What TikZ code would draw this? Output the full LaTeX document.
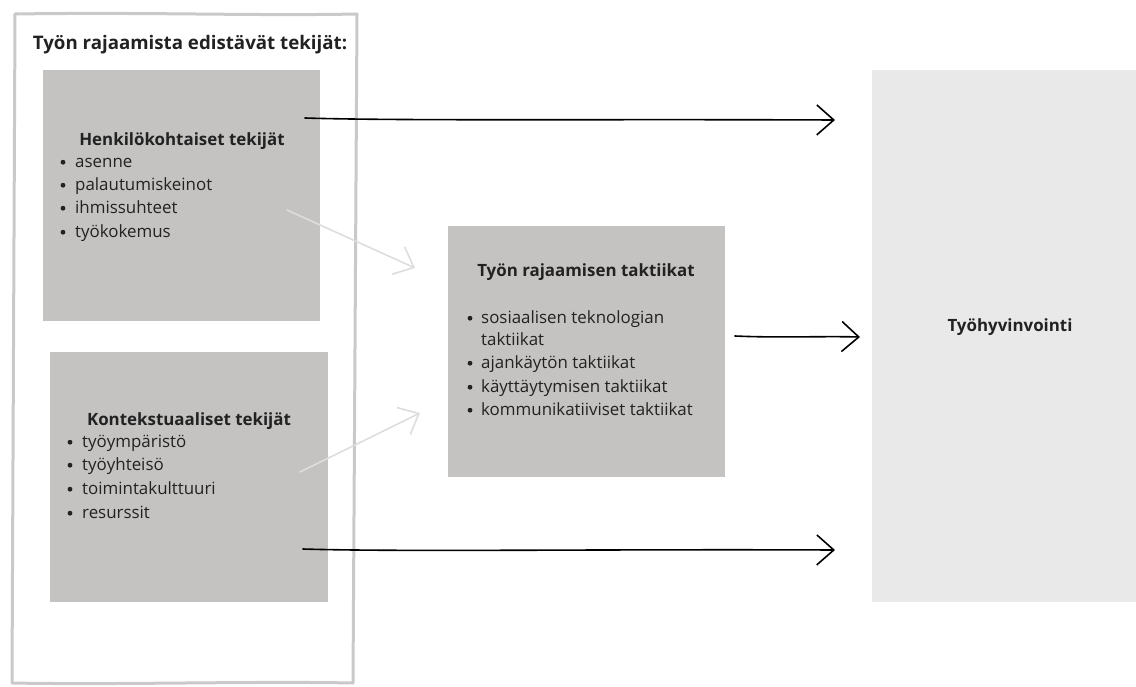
\documentclass[tikz,border=0pt]{standalone}
\usepackage{fontspec}
\setmainfont{Open Sans}
\usetikzlibrary{arrows.meta}
\definecolor{boxgray}{HTML}{C4C3C1}
\definecolor{lightbox}{HTML}{E9E9E9}
\definecolor{framegray}{HTML}{C9C9C9}
\definecolor{txt}{HTML}{222222}
\definecolor{arrgray}{HTML}{DDDDDD}
\tikzset{
  gbox/.style={fill=boxgray, draw=none},
  body/.style={anchor=base west, inner sep=0pt, text=txt, font=\fontsize{16.9}{20}\selectfont},
  head/.style={anchor=base, inner sep=0pt, text=txt, font=\bfseries\fontsize{16.9}{20}\selectfont},
  blt/.style={fill=txt},
  darr/.style={draw=black, line width=1.6pt, line cap=round, -{Straight Barb[length=17pt,width=30pt,line width=1.6pt]}},
  larr/.style={draw=arrgray, line width=1.6pt, line cap=round, -{Straight Barb[length=17pt,width=30pt,line width=1.6pt]}},
}
\begin{document}
\begin{tikzpicture}[x=1pt,y=-1pt]
\useasboundingbox (0,0) rectangle (1136,686);
% outer frame
\draw[framegray, line width=3pt, line join=round] (15,14) .. controls (150,12) and (250,16) .. (357,14) -- (353,683) .. controls (250,681) and (120,685) .. (12,683) -- cycle;
\node[anchor=base, inner sep=0pt, text=txt, font=\bfseries\fontsize{18.7}{22}\selectfont] (title) at (190,49) {Työn rajaamista edistävät tekijät:};
% boxes
\path[gbox] (43,70) rectangle (320,321); \coordinate (b1) at (181,195);
\path[gbox] (50,352) rectangle (328,602); \coordinate (b2) at (189,477);
\path[gbox] (448,226) rectangle (725,477); \coordinate (mid) at (586,351);
\path[fill=lightbox] (872,70) rectangle (1136,602); \coordinate (wb) at (1004,336);
% box 1
\node[head] (h1) at (182,145) {Henkilökohtaiset tekijät};
\foreach \y/\t [count=\i] in {167/asenne,190/palautumiskeinot,213/ihmissuhteet,237/työkokemus}{
  \fill[blt] (63,\y-4.8) circle (2.4);
  \node[body] (a\i) at (75,\y) {\t};
}
% box 2
\node[head] (h2) at (189,425) {Kontekstuaaliset tekijät};
\foreach \y/\t [count=\i] in {447/työympäristö,470/työyhteisö,494/toimintakulttuuri,518/resurssit}{
  \fill[blt] (70,\y-4.8) circle (2.4);
  \node[body] (c\i) at (82,\y) {\t};
}
% middle
\node[head] (h3) at (586,276) {Työn rajaamisen taktiikat};
\foreach \y/\t [count=\i] in {323/sosiaalisen teknologian,345/taktiikat,368/ajankäytön taktiikat,392/käyttäytymisen taktiikat,415/kommunikatiiviset taktiikat}{
  \node[body] (m\i) at (481,\y) {\t};
}
\foreach \y in {323,368,392,415}{ \fill[blt] (470,\y-4.8) circle (2.4); }
% right
\node[anchor=base, inner sep=0pt, text=txt, font=\bfseries\fontsize{16.9}{20}\selectfont] (wbt) at (1010,331) {Työhyvinvointi};
% arrow endpoints
\coordinate (s1) at (305,118); \coordinate (e1) at (835,120);
\coordinate (s2) at (735,336); \coordinate (e2) at (860,337);
\coordinate (s3) at (303,549); \coordinate (e3) at (835,550);
\coordinate (s4) at (287,210); \coordinate (e4) at (415,268);
\coordinate (s5) at (300,472); \coordinate (e5) at (420,413);
\draw[darr] (s1) .. controls (400,121) and (600,119) .. (e1);
\draw[darr] (s2) .. controls (780,338) and (820,336) .. (e2);
\draw[darr] (s3) .. controls (400,552) and (600,549) .. (e3);
\draw[larr] (s4) -- (e4);
\draw[larr] (s5) -- (e5);
\end{tikzpicture}
\end{document}
